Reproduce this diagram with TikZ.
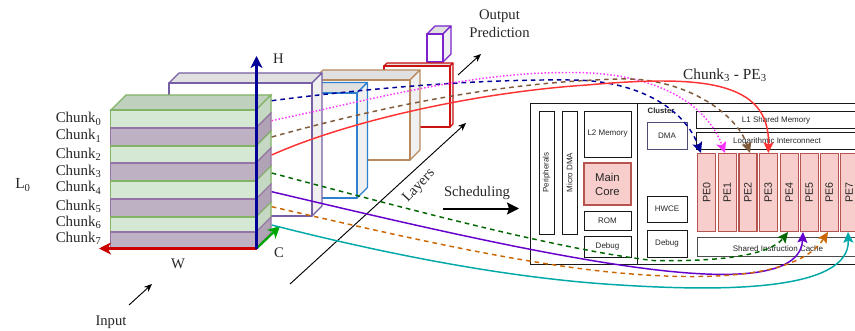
\documentclass[tikz,border=0pt]{standalone}
\usepackage{fontspec}
\setmainfont{Liberation Serif}
\newfontfamily\chipfont{Liberation Sans}
\usetikzlibrary{arrows.meta}
\definecolor{gfill}{HTML}{D5E8D4}\definecolor{gstroke}{HTML}{82B366}
\definecolor{gside}{HTML}{C5D8C4}\definecolor{gtop}{HTML}{C0D0BF}
\definecolor{pfill}{HTML}{BEB1C3}\definecolor{pstroke}{HTML}{9673A6}
\definecolor{pside}{HTML}{B0A3B6}
\definecolor{pefill}{HTML}{F8CECC}\definecolor{pestroke}{HTML}{B85450}
\definecolor{lpurple}{HTML}{765FA5}\definecolor{lblue}{HTML}{2D7FD0}
\definecolor{lorange}{HTML}{B98A5E}\definecolor{lred}{HTML}{CC1111}
\definecolor{lviolet}{HTML}{7A22CC}
\definecolor{cblue}{HTML}{000099}\definecolor{cmag}{HTML}{FF33FF}
\definecolor{cbrown}{HTML}{7F5A3A}\definecolor{cred}{HTML}{FF3333}
\definecolor{cgreen}{HTML}{006600}\definecolor{cviolet}{HTML}{6600CC}
\definecolor{corange}{HTML}{CC6600}\definecolor{cteal}{HTML}{00A8A8}
\tikzset{
  lbl/.style={font=\fontsize{11}{13}\selectfont,inner sep=0pt,text=black!85},
  chunklbl/.style={font=\fontsize{11.2}{13}\selectfont,inner sep=0pt,anchor=base west,text=black!85},
  sz/.style 2 args={minimum width=#1*0.75pt,minimum height=#2*0.75pt,inner sep=0pt,outer sep=0pt},
  gchunk/.style={draw=gstroke,fill=gfill,line width=0.8pt},
  pchunk/.style={draw=pstroke,fill=pfill,line width=0.8pt},
  chip/.style={draw=black!90,line width=0.65pt,fill=white,font=\chipfont\fontsize{6}{7}\selectfont,text=black!85},
  chiptext/.style={font=\chipfont\fontsize{6}{7}\selectfont,text=black!85,inner sep=0pt},
  pebox/.style={draw=pestroke,fill=pefill,line width=0.9pt,font=\chipfont\fontsize{8}{9}\selectfont,text=black!85},
  flow/.style={line width=1.1pt,-{Stealth[length=8pt,width=7.5pt,inset=1.5pt]}},
  axis/.style={line width=1.7pt,-{Stealth[length=9pt,width=9pt,inset=2.5pt]}},
  note/.style={black,line width=0.7pt,-{Stealth[length=6pt,width=5pt]}},
  dotline/.style={dash pattern=on 1.1pt off 1.5pt},
  dashline/.style={dash pattern=on 3.5pt off 3pt},
  topface/.style={fill=black!12},
  sidef/.style={fill=black!6},
  layer/.style={line width=0.85pt,line join=round},
}
\newcommand{\solid}[6]{% x0 y0 x1 y1 d colour
  \fill[white] (#1,#2) rectangle (#3,#4);
  \draw[layer,draw=#6,topface] (#1,#2)--++(#5,-#5)--(#3+#5,#2-#5)--(#3,#2)--cycle;
  \draw[layer,draw=#6,sidef] (#3,#2)--++(#5,-#5)--(#3+#5,#4-#5)--(#3,#4)--cycle;
  \draw[layer,draw=#6] (#1,#2) rectangle (#3,#4);
}
\newcommand{\chunkside}[3]{% y0 y1 style
  \draw[#3] (256,#1)--(271,#1-15)--(271,#2-15)--(256,#2)--cycle;
}
\begin{document}
\begin{tikzpicture}[x=0.75pt,y=-0.75pt]
\clip (0,0) rectangle (855,331);
% layers
\solid{427}{34}{443}{62}{8}{lviolet}
\solid{384}{66}{450}{127}{3}{lred}
\solid{313}{80}{410}{160}{10}{lorange}
\solid{305}{93}{357}{198}{10.5}{lblue}
\solid{169}{83}{312}{216}{10}{lpurple}
% input stack
\draw[gstroke,line width=0.8pt,fill=gtop] (111,110)--(126,95)--(271,95)--(256,110)--cycle;
\chunkside{110}{128}{draw=gstroke,fill=gside,line width=0.8pt}
\chunkside{128}{146}{draw=pstroke,fill=pside,line width=0.8pt}
\chunkside{146}{163}{draw=gstroke,fill=gside,line width=0.8pt}
\chunkside{163}{181}{draw=pstroke,fill=pside,line width=0.8pt}
\chunkside{181}{199}{draw=gstroke,fill=gside,line width=0.8pt}
\chunkside{199}{217}{draw=pstroke,fill=pside,line width=0.8pt}
\chunkside{217}{232}{draw=gstroke,fill=gside,line width=0.8pt}
\chunkside{232}{248}{draw=pstroke,fill=pside,line width=0.8pt}
\node[gchunk,sz={145.5}{18}] (f0) at (183.5,119) {};
\node[pchunk,sz={145.5}{18}] (f1) at (183.5,137) {};
\node[gchunk,sz={145.5}{17}] (f2) at (183.5,154.5) {};
\node[pchunk,sz={145.5}{18}] (f3) at (183.5,172) {};
\node[gchunk,sz={145.5}{18}] (f4) at (183.5,190) {};
\node[pchunk,sz={145.5}{18}] (f5) at (183.5,208) {};
\node[gchunk,sz={145.5}{15}] (f6) at (183.5,224.5) {};
\node[pchunk,sz={145.5}{16}] (f7) at (183.5,240) {};
\coordinate (s0) at (271.7,100.7);
\coordinate (s1) at (271.7,120.7);
\coordinate (s2) at (271.7,137);
\coordinate (s3) at (271.7,155);
\coordinate (s4) at (271.7,173);
\coordinate (s5) at (271.7,191.7);
\coordinate (s6) at (271.7,206.7);
\coordinate (s7) at (271.7,225);
% axes
\coordinate (origin) at (256.5,248.5);
\coordinate (hend) at (256.5,56);
\coordinate (wend) at (99,248.5);
\coordinate (cend) at (280,226);
\draw[axis,color=red!80!black] (origin)--(wend);
\draw[axis,color=green!65!black] (origin)--(cend);
\draw[axis,color=cblue] (origin)--(hend);
% labels
\node[lbl] (lh) at (278.5,58.5) {H};
\node[lbl] (lw) at (178,264) {W};
\node[lbl] (lc) at (279,252.5) {C};
\node[lbl,font=\fontsize{11.5}{13}\selectfont] (l0) at (23,185) {L\textsubscript{0}};
\node[chunklbl] (c0) at (55.5,123) {Chunk\textsubscript{0}};
\node[chunklbl] (c1) at (55.5,140) {Chunk\textsubscript{1}};
\node[chunklbl] (c2) at (55.5,158.5) {Chunk\textsubscript{2}};
\node[chunklbl] (c3) at (55.5,175.5) {Chunk\textsubscript{3}};
\node[chunklbl] (c4) at (55.5,192) {Chunk\textsubscript{4}};
\node[chunklbl] (c5) at (55.5,210) {Chunk\textsubscript{5}};
\node[chunklbl] (c6) at (55.5,226) {Chunk\textsubscript{6}};
\node[chunklbl] (c7) at (55.5,242) {Chunk\textsubscript{7}};
\node[lbl] (input) at (111,322) {Input};
\coordinate (ia) at (129,305);\coordinate (ib) at (152,284);
\draw[note] (ia)--(ib);
\node[lbl,align=center,font=\fontsize{11}{13}\selectfont] (outp) at (499.5,24) {Output\\[0.5pt]Prediction};
\coordinate (oa) at (458,75);\coordinate (ob) at (481,54);
\draw[note] (oa)--(ob);
\coordinate (la) at (290,284);\coordinate (lb) at (466,123);
\draw[note] (la)--(lb);
\node[lbl,rotate=47] (layers) at (419,186) {Layers};
\node[lbl] (sched) at (477,193) {Scheduling};
\coordinate (sa) at (443,208.5);\coordinate (sb) at (519,208.5);
\draw[black,line width=1.5pt,-{Stealth[length=9pt,width=9pt,inset=1.5pt]}] (sa)--(sb);
\node[lbl,font=\fontsize{11.5}{13}\selectfont] (title) at (725,75) {Chunk\textsubscript{3} - PE\textsubscript{3}};
% chip
\node[draw=black!90,line width=0.65pt,sz={107}{161},fill=white] (soc) at (583.5,183.5) {};
\node[draw=black!90,line width=0.65pt,sz={225}{161},fill=white] (cluster) at (749.5,183.5) {};
\node[chip,sz={15}{123}] (periph) at (546.5,172.5) {};
\node[chiptext,rotate=90] at (periph) {Peripherals};
\node[chip,sz={15}{123}] (udma) at (569.5,172.5) {};
\node[chiptext,rotate=90] at (udma) {Micro DMA};
\node[chip,sz={47}{46}] (l2) at (607.5,134) {L2 Memory};
\node[pebox,sz={47}{42},align=center,font=\chipfont\fontsize{8.5}{10.5}\selectfont] (core) at (607.5,184) {Main\\Core};
\node[chip,sz={47}{19}] (rom) at (607.5,220.5) {ROM};
\node[chip,sz={47}{21}] (dbg1) at (607.5,246.5) {Debug};
\node[font=\chipfont\bfseries\fontsize{5.8}{7}\selectfont,text=black!85,inner sep=0pt] (clu) at (661,110.5) {Cluster};
\node[chip,sz={40}{27},draw=black!60!blue!40!gray] (dma) at (667,135.5) {DMA};
\node[chip,sz={40}{26}] (hwce) at (667,209) {HWCE};
\node[chip,sz={40}{27}] (dbg2) at (667,243.5) {Debug};
\node[chip,sz={170}{17}] (l1) at (781,119.5) {};
\node[chiptext] at (776,120.5) {L1 Shared Memory};
\node[chip,sz={170}{17}] (logi) at (781,140.5) {};
\node[chiptext] at (777,141.5) {Logarithmic Interconnect};
\node[chip,sz={170}{19},draw=black!70] (sic) at (782.5,247) {};
\node[chiptext] at (778,248.5) {Shared Instruction Cache};
\foreach \i/\x in {0/706.7,1/727.3,2/748,3/768.3,4/789.3,5/809.3,6/829.3,7/849.3}{
  \node[pebox,sz={18}{78}] (pe\i) at (\x,192.7) {};
  \node[font=\chipfont\fontsize{8}{9}\selectfont,rotate=90,inner sep=0pt,text=black!85] at (pe\i) {PE\i};
}
% flows
\coordinate (t0) at (701,153);\coordinate (t1) at (725,153);
\coordinate (t2) at (750,153);\coordinate (t3) at (768.3,153);
\coordinate (b4) at (788,232);\coordinate (b5) at (803,232);
\coordinate (b6) at (828,232);\coordinate (b7) at (848,232);
\draw[flow,color=cblue,dashline] (s0) .. controls (370,88) and (480,79) .. (570,80) .. controls (640,80) and (685,110) .. (t0);
\draw[flow,color=cmag,dotline] (s1) .. controls (370,100) and (470,72) .. (570,72.5) .. controls (650,72) and (705,100) .. (t1);
\draw[flow,color=cbrown,dashline] (s2) .. controls (380,107) and (500,82) .. (620,79) .. controls (680,77) and (735,110) .. (t2);
\draw[flow,color=cred] (s3) .. controls (350,120) and (480,92) .. (587,85) .. controls (700,75) and (770,80) .. (t3);
\draw[flow,color=cgreen,dashline] (s4) .. controls (400,207) and (560,250) .. (653,260.5) .. controls (720,262) and (770,255) .. (b4);
\draw[flow,color=cviolet] (s5) .. controls (400,222) and (520,250) .. (620,265) .. controls (700,277) and (800,285) .. (b5);
\draw[flow,color=corange,dashline] (s6) .. controls (400,236) and (520,264) .. (620,273) .. controls (720,282) and (800,275) .. (b6);
\draw[flow,color=cteal] (s7) .. controls (370,250) and (500,278) .. (620,285) .. controls (730,292) and (850,290) .. (b7);
\end{tikzpicture}
\end{document}
